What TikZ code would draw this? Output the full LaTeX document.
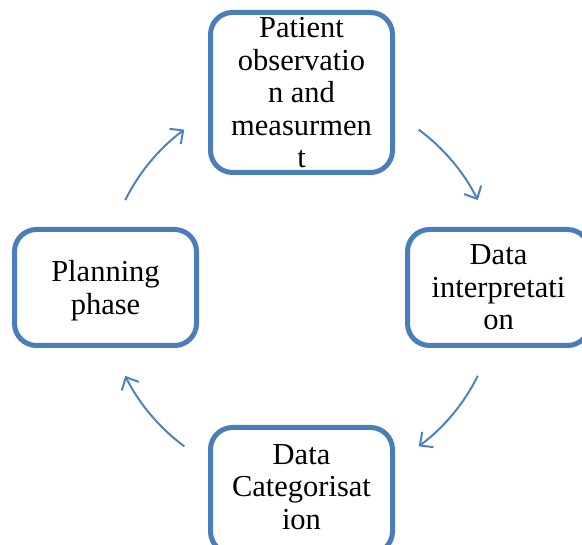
\documentclass[tikz,border=0pt]{standalone}
\usepackage{fontspec}
\setmainfont{Liberation Serif}
\usetikzlibrary{arrows.meta}

\definecolor{boxblue}{RGB}{74,126,187}
\definecolor{arrowblue}{RGB}{79,129,189}

\begin{document}
\begin{tikzpicture}[x=1pt, y=1pt,
  stagebox/.style={draw=boxblue, line width=5pt, rounded corners=22pt, fill=white,
    minimum width=182pt, minimum height=116pt, inner sep=0pt, align=center,
    text depth=0pt, font=\fontsize{30.5}{32.5}\selectfont},
  cyclearrow/.style={draw=arrowblue, line width=2pt, -{Straight Barb[length=10pt, width=19pt]}}]

% Page area
\useasboundingbox (0,0) rectangle (582,545);
\clip (0,0) rectangle (582,545);

% Centre of the cycle
\coordinate (hub) at (301.5,257);

% Stages
\node[stagebox, minimum height=160pt] (observe) at (301.5,452.5) {Patient\\observatio\\n and\\measurmen\\t};
\node[stagebox] (interpret) at (498.5,257.5) {Data\\interpretati\\on};
\node[stagebox, minimum height=126pt, text depth=7pt] (categorise) at (301.5,54.5) {Data\\Categorisat\\ion};
\node[stagebox] (planning) at (105.5,257.5) {Planning\\phase};

% Arrows round the cycle
\draw[cyclearrow] ([shift={(53.5:197)}]hub) arc[start angle=53.5, end angle=26.5, radius=197];
\draw[cyclearrow] ([shift={(-26.5:197)}]hub) arc[start angle=-26.5, end angle=-53.5, radius=197];
\draw[cyclearrow] ([shift={(-126.5:197)}]hub) arc[start angle=-126.5, end angle=-153.5, radius=197];
\draw[cyclearrow] ([shift={(153.5:197)}]hub) arc[start angle=153.5, end angle=126.5, radius=197];

\end{tikzpicture}
\end{document}
